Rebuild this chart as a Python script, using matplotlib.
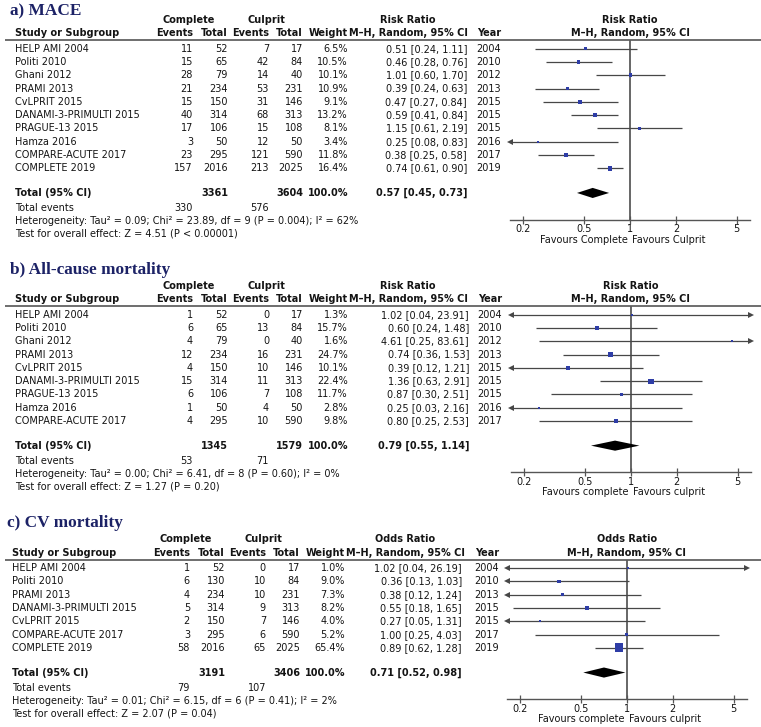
import matplotlib
matplotlib.use("Agg")
import matplotlib.pyplot as plt
import numpy as np
from matplotlib.ticker import NullLocator

W, H = 761, 727
ROW = 13.3
TXT = "#141414"
LINE = "#474747"
BLUE = "#2e3da6"
NAVY = "#1c2266"
XLIM = (0.164, 6.1)
TICKS = [0.2, 0.5, 1, 2, 5]

# ---- a) MACE ----
studies_a = ["HELP AMI 2004", "Politi 2010", "Ghani 2012", "PRAMI 2013", "CvLPRIT 2015",
             "DANAMI-3-PRIMULTI 2015", "PRAGUE-13 2015", "Hamza 2016", "COMPARE-ACUTE 2017",
             "COMPLETE 2019"]
comp_ev_a = [11, 15, 28, 21, 15, 40, 17, 3, 23, 157]
comp_tot_a = [52, 65, 79, 234, 150, 314, 106, 50, 295, 2016]
cul_ev_a = [7, 42, 14, 53, 31, 68, 15, 12, 121, 213]
cul_tot_a = [17, 84, 40, 231, 146, 313, 108, 50, 590, 2025]
weight_a = [6.5, 10.5, 10.1, 10.9, 9.1, 13.2, 8.1, 3.4, 11.8, 16.4]
est_a = [0.51, 0.46, 1.01, 0.39, 0.47, 0.59, 1.15, 0.25, 0.38, 0.74]
lo_a = [0.24, 0.28, 0.60, 0.24, 0.27, 0.41, 0.61, 0.08, 0.25, 0.61]
hi_a = [1.11, 0.76, 1.70, 0.63, 0.84, 0.84, 2.19, 0.83, 0.58, 0.90]
year_a = [2004, 2010, 2012, 2013, 2015, 2015, 2015, 2016, 2017, 2019]
total_a = (3361, 3604, 0.57, 0.45, 0.73)
events_a = (330, 576)
het_a = "Heterogeneity: Tau\u00b2 = 0.09; Chi\u00b2 = 23.89, df = 9 (P = 0.004); I\u00b2 = 62%"
test_a = "Test for overall effect: Z = 4.51 (P < 0.00001)"

# ---- b) All-cause mortality ----
studies_b = studies_a[:9]
comp_ev_b = [1, 6, 4, 12, 4, 15, 6, 1, 4]
comp_tot_b = [52, 65, 79, 234, 150, 314, 106, 50, 295]
cul_ev_b = [0, 13, 0, 16, 10, 11, 7, 4, 10]
cul_tot_b = [17, 84, 40, 231, 146, 313, 108, 50, 590]
weight_b = [1.3, 15.7, 1.6, 24.7, 10.1, 22.4, 11.7, 2.8, 9.8]
est_b = [1.02, 0.60, 4.61, 0.74, 0.39, 1.36, 0.87, 0.25, 0.80]
lo_b = [0.04, 0.24, 0.25, 0.36, 0.12, 0.63, 0.30, 0.03, 0.25]
hi_b = [23.91, 1.48, 83.61, 1.53, 1.21, 2.91, 2.51, 2.16, 2.53]
year_b = [2004, 2010, 2012, 2013, 2015, 2015, 2015, 2016, 2017]
total_b = (1345, 1579, 0.79, 0.55, 1.14)
events_b = (53, 71)
het_b = "Heterogeneity: Tau\u00b2 = 0.00; Chi\u00b2 = 6.41, df = 8 (P = 0.60); I\u00b2 = 0%"
test_b = "Test for overall effect: Z = 1.27 (P = 0.20)"

# ---- c) CV mortality ----
studies_c = ["HELP AMI 2004", "Politi 2010", "PRAMI 2013", "DANAMI-3-PRIMULTI 2015",
             "CvLPRIT 2015", "COMPARE-ACUTE 2017", "COMPLETE 2019"]
comp_ev_c = [1, 6, 4, 5, 2, 3, 58]
comp_tot_c = [52, 130, 234, 314, 150, 295, 2016]
cul_ev_c = [0, 10, 10, 9, 7, 6, 65]
cul_tot_c = [17, 84, 231, 313, 146, 590, 2025]
weight_c = [1.0, 9.0, 7.3, 8.2, 4.0, 5.2, 65.4]
est_c = [1.02, 0.36, 0.38, 0.55, 0.27, 1.00, 0.89]
lo_c = [0.04, 0.13, 0.12, 0.18, 0.05, 0.25, 0.62]
hi_c = [26.19, 1.03, 1.24, 1.65, 1.31, 4.03, 1.28]
year_c = [2004, 2010, 2013, 2015, 2015, 2017, 2019]
total_c = (3191, 3406, 0.71, 0.52, 0.98)
events_c = (79, 107)
het_c = "Heterogeneity: Tau\u00b2 = 0.01; Chi\u00b2 = 6.15, df = 6 (P = 0.41); I\u00b2 = 2%"
test_c = "Test for overall effect: Z = 2.07 (P = 0.04)"

panels = [
    dict(title="a) MACE", measure="Risk Ratio", fav=("Favours Complete", "Favours Culprit"),
         studies=studies_a, ce=comp_ev_a, ct=comp_tot_a, ue=cul_ev_a, ut=cul_tot_a,
         w=weight_a, est=est_a, lo=lo_a, hi=hi_a, year=year_a, total=total_a,
         events=events_a, het=het_a, test=test_a,
         L=40, title_y=15, dx=0, ci_r=467, year_r=501, c=630),
    dict(title="b) All-cause mortality", measure="Risk Ratio", fav=("Favours complete", "Favours culprit"),
         studies=studies_b, ce=comp_ev_b, ct=comp_tot_b, ue=cul_ev_b, ut=cul_tot_b,
         w=weight_b, est=est_b, lo=lo_b, hi=hi_b, year=year_b, total=total_b,
         events=events_b, het=het_b, test=test_b,
         L=306, title_y=274, dx=0, ci_r=469, year_r=502, c=630.7),
    dict(title="c) CV mortality", measure="Odds Ratio", fav=("Favours complete", "Favours culprit"),
         studies=studies_c, ce=comp_ev_c, ct=comp_tot_c, ue=cul_ev_c, ut=cul_tot_c,
         w=weight_c, est=est_c, lo=lo_c, hi=hi_c, year=year_c, total=total_c,
         events=events_c, het=het_c, test=test_c,
         L=559.5, title_y=527, dx=-3, ci_r=462, year_r=499, c=626.7),
]

fig = plt.figure(figsize=(W / 100, H / 100), dpi=100)
bg = fig.add_axes([0, 0, 1, 1])
bg.set_xlim(0, W)
bg.set_ylim(H, 0)
bg.axis("off")


def txt(x, y, s, ha="left", bold=False, size=7):
    bg.text(x, y, s, ha=ha, va="center", fontsize=size, color=TXT,
            fontweight="bold" if bold else "normal", fontfamily="DejaVu Sans")


for p in panels:
    L, dx, n = p["L"], p["dx"], len(p["studies"])
    # title
    bg.text(10 + dx, p["title_y"], p["title"], ha="left", va="baseline", fontsize=12.4,
            fontweight="bold", color=NAVY, fontfamily="Liberation Serif")
    # headers
    txt(189 + dx, L - 20, "Complete", ha="center", bold=True)
    txt(266 + dx, L - 20, "Culprit", ha="center", bold=True)
    txt(408 + dx, L - 20, p["measure"], ha="center", bold=True)
    txt(p["c"], L - 20, p["measure"], ha="center", bold=True)
    txt(15 + dx, L - 6.5, "Study or Subgroup", bold=True)
    txt(193 + dx, L - 6.5, "Events", ha="right", bold=True)
    txt(228 + dx, L - 6.5, "Total", ha="right", bold=True)
    txt(269 + dx, L - 6.5, "Events", ha="right", bold=True)
    txt(303 + dx, L - 6.5, "Total", ha="right", bold=True)
    txt(348 + dx, L - 6.5, "Weight", ha="right", bold=True)
    txt(408 + dx, L - 6.5, "M\u2013H, Random, 95% CI", ha="center", bold=True)
    txt(p["year_r"], L - 6.5, "Year", ha="right", bold=True)
    txt(p["c"], L - 6.5, "M\u2013H, Random, 95% CI", ha="center", bold=True)
    bg.plot([5, W], [L, L], color="#555555", lw=1.2, solid_capstyle="butt")

    # study rows
    for i in range(n):
        y = L + (i + 0.65) * ROW
        txt(15 + dx, y, p["studies"][i])
        txt(193 + dx, y, str(p["ce"][i]), ha="right")
        txt(228 + dx, y, str(p["ct"][i]), ha="right")
        txt(269 + dx, y, str(p["ue"][i]), ha="right")
        txt(303 + dx, y, str(p["ut"][i]), ha="right")
        txt(348 + dx, y, f"{p['w'][i]:.1f}%", ha="right")
        txt(p["ci_r"], y, f"{p['est'][i]:.2f} [{p['lo'][i]:.2f}, {p['hi'][i]:.2f}]", ha="right")
        txt(p["year_r"], y, str(p["year"][i]), ha="right")

    # totals
    tt = p["total"]
    ty = L + (n + 0.85 + 0.65) * ROW
    txt(15 + dx, ty, "Total (95% CI)", bold=True)
    txt(228 + dx, ty, str(tt[0]), ha="right", bold=True)
    txt(303 + dx, ty, str(tt[1]), ha="right", bold=True)
    txt(348 + dx, ty, "100.0%", ha="right", bold=True)
    txt(p["ci_r"], ty, f"{tt[2]:.2f} [{tt[3]:.2f}, {tt[4]:.2f}]", ha="right", bold=True)
    txt(15 + dx, ty + 15, "Total events")
    txt(193 + dx, ty + 15, str(p["events"][0]), ha="right")
    txt(269 + dx, ty + 15, str(p["events"][1]), ha="right")
    txt(15 + dx, ty + 28, p["het"])
    txt(15 + dx, ty + 41, p["test"])

    # forest plot
    axis_y = L + (n + 3.5) * ROW
    ax = fig.add_axes([(p["c"] - 120) / W, 1 - axis_y / H, 240 / W, (axis_y - L) / H])
    ax.patch.set_alpha(0)
    ax.set_xscale("log")
    ax.set_xlim(*XLIM)
    ax.set_ylim(n + 2.85, -0.65)
    for s in ("top", "left", "right"):
        ax.spines[s].set_visible(False)
    ax.spines["bottom"].set_color("#555555")
    ax.spines["bottom"].set_linewidth(1.0)
    ax.set_yticks([])
    ax.set_xticks(TICKS)
    ax.set_xticklabels(["0.2", "0.5", "1", "2", "5"])
    ax.xaxis.set_minor_locator(NullLocator())
    ax.tick_params(axis="x", direction="inout", length=6, width=0.9, colors="#555555",
                   labelcolor=TXT, labelsize=7, pad=0.5)
    ax.axvline(1, color="#5a5a5a", lw=1.3, zorder=1)

    rows = np.arange(n)
    lo = np.array(p["lo"])
    hi = np.array(p["hi"])
    ax.hlines(rows, np.clip(lo, *XLIM), np.clip(hi, *XLIM), color=LINE, lw=0.9, zorder=2)
    for r in rows:
        if lo[r] < XLIM[0]:
            ax.plot(XLIM[0], r, marker="<", ms=4.5, color=LINE, mew=0, clip_on=False, zorder=3)
        if hi[r] > XLIM[1]:
            ax.plot(XLIM[1], r, marker=">", ms=4.5, color=LINE, mew=0, clip_on=False, zorder=3)
    side = np.maximum(1.1 * np.sqrt(p["w"]), 2.0) * 0.72
    ax.scatter(p["est"], rows, s=side ** 2, marker="s", color=BLUE, linewidths=0, zorder=4)
    dy = n + 0.85
    ax.fill([tt[3], tt[2], tt[4], tt[2]], [dy, dy - 0.38, dy, dy + 0.38], color="black", lw=0, zorder=4)

    bg.text(p["c"] - 2, axis_y + 20, p["fav"][0], ha="right", va="center", fontsize=7, color=TXT)
    bg.text(p["c"] + 2.5, axis_y + 20, p["fav"][1], ha="left", va="center", fontsize=7, color=TXT)

fig.savefig("out.png", dpi=100)
